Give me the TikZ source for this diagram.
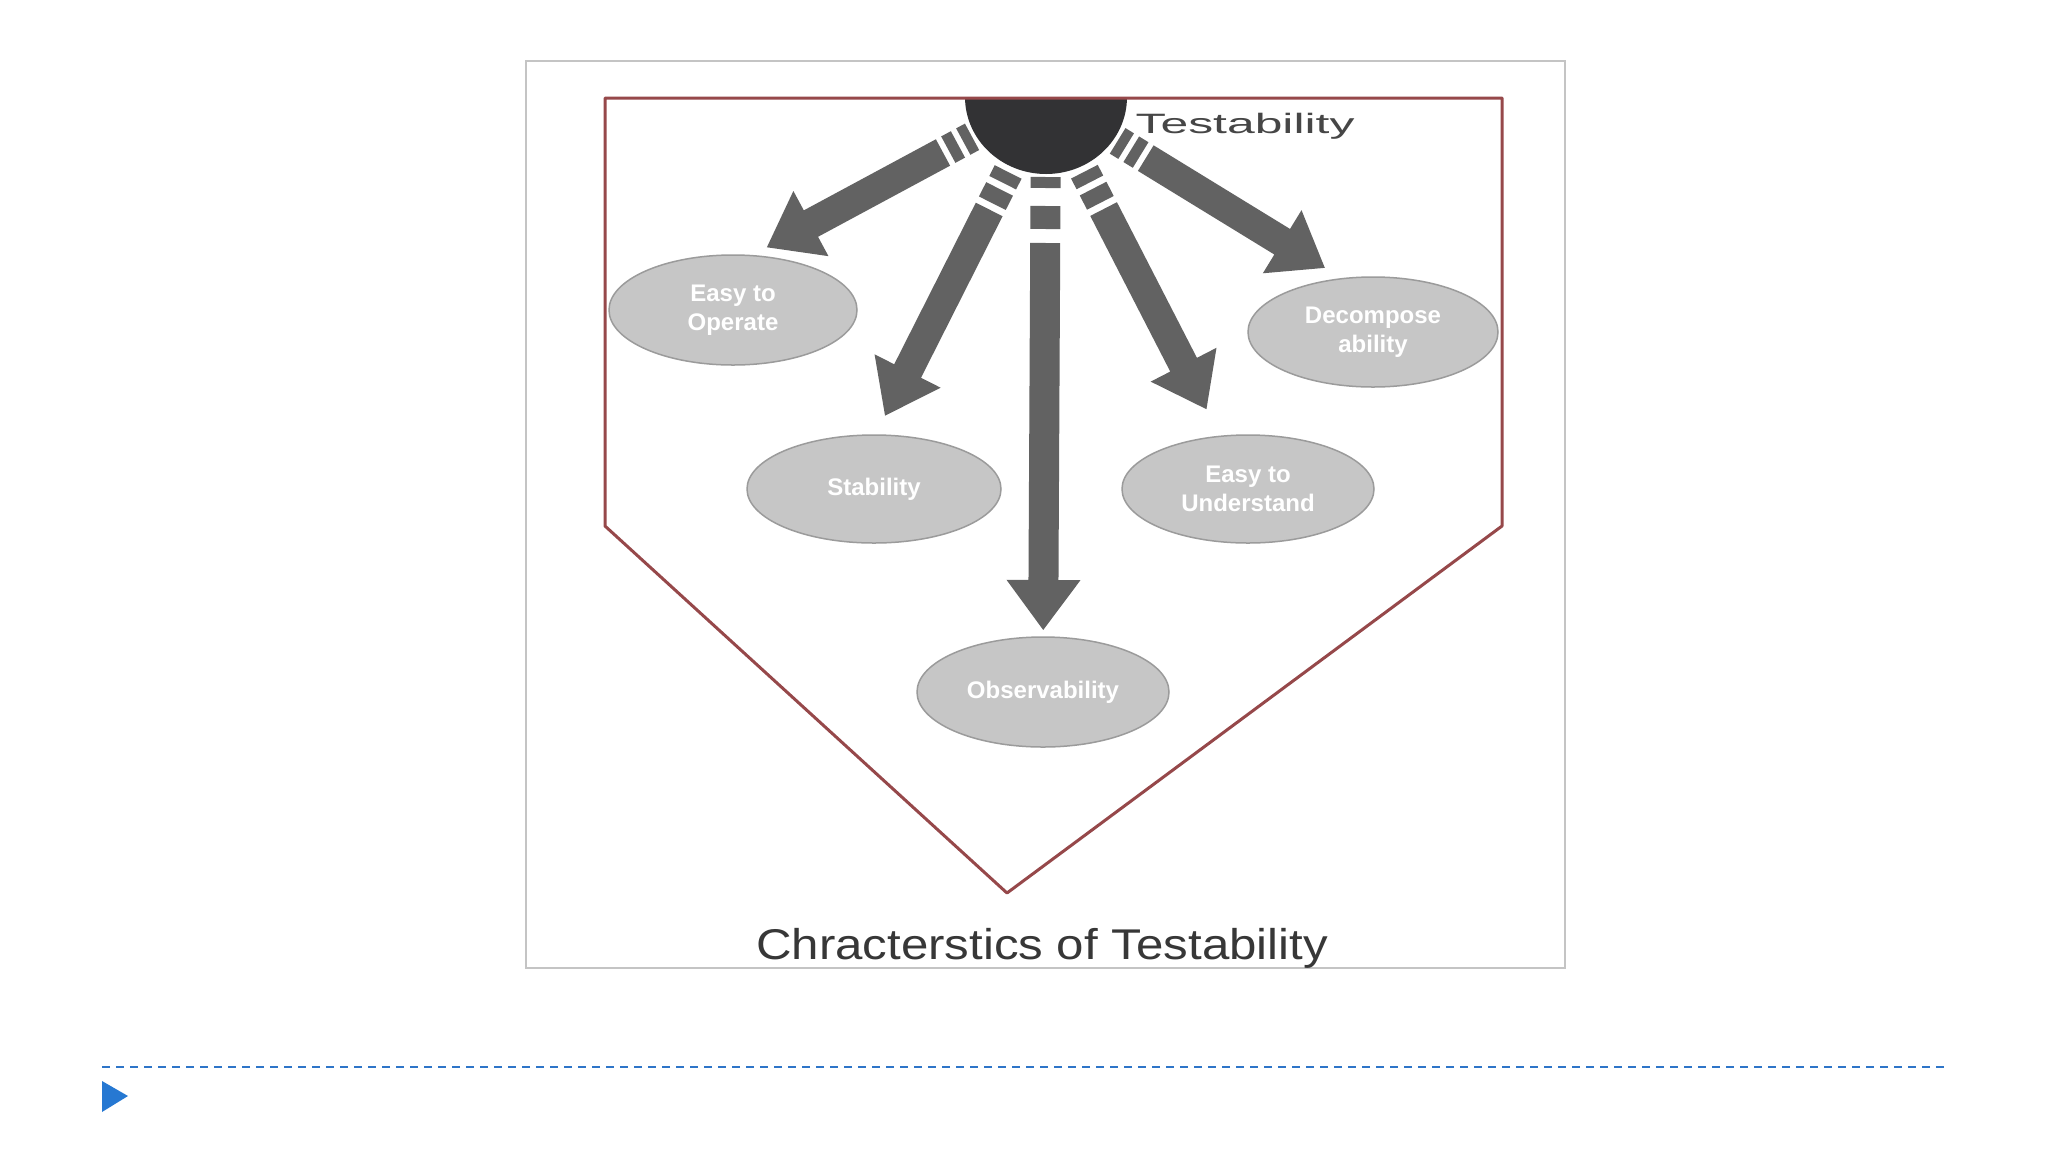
\documentclass[tikz,border=0pt]{standalone}
\usepackage{fontspec}
\setmainfont{Liberation Sans}
\usetikzlibrary{shapes.geometric}
\definecolor{framegray}{RGB}{196,196,196}
\definecolor{pentred}{RGB}{150,72,74}
\definecolor{arrowgray}{RGB}{98,98,98}
\definecolor{sundark}{RGB}{50,50,52}
\definecolor{ellfill}{RGB}{198,198,198}
\definecolor{elldraw}{RGB}{155,155,155}
\definecolor{blueline}{RGB}{46,117,200}
\definecolor{bluetri}{RGB}{38,120,210}
\definecolor{titlegray}{RGB}{55,55,55}
\definecolor{labelgray}{RGB}{70,70,70}

% #1 angle, #2 length, #3-#4 first dash, #5-#6 second dash, #7 shaft start
\newcommand{\shaftarrow}[7]{%
  \begin{scope}[shift={(C)}, rotate=#1]
    \fill[arrowgray] (#3,-15) rectangle (#4,15);
    \fill[arrowgray] (#5,-15) rectangle (#6,15);
    \fill[arrowgray] (#7,-15) -- ({#2-50},-15) -- ({#2-50},-37) -- (#2,0)
      -- ({#2-50},37) -- ({#2-50},15) -- (#7,15) -- cycle;
  \end{scope}}

\begin{document}
\begin{tikzpicture}[x=1pt,y=-1pt,
  ellnode/.style={ellipse, fill=ellfill, draw=elldraw, line width=1.5pt,
    inner sep=0pt, text=white, align=center,
    font=\fontsize{24}{29}\selectfont\bfseries},
  pentline/.style={draw=pentred, line width=3pt, line join=round},
  framebox/.style={draw=framegray, line width=2pt}]

\fill[white] (0,0) rectangle (2048,1152);
\useasboundingbox (0,0) rectangle (2048,1152);

% outer frame
\draw[framebox] (526,61) rectangle (1565,968);

\coordinate (C) at (1046,97);

% arrows
\shaftarrow{208.3}{317}{84}{94}{100}{111}{117}
\shaftarrow{243.2}{357}{84}{96}{103}{119}{126}
\shaftarrow{269.7}{533}{80}{91}{109}{132}{146}
\shaftarrow{297.2}{351}{84}{96}{103}{119}{126}
\shaftarrow{328.5}{327}{84}{94}{100}{111}{117}

% dark half disc
\begin{scope}
  \clip (900,98) rectangle (1200,220);
  \fill[sundark] (C) ellipse [x radius=81, y radius=77];
\end{scope}

% pentagon
\coordinate (p1) at (605,98);
\coordinate (p2) at (1502,98);
\coordinate (p3) at (1502,526);
\coordinate (p4) at (1007,893);
\coordinate (p5) at (605,526);
\draw[pentline] (p1) -- (p2) -- (p3) -- (p4) -- (p5) -- cycle;

% ellipses
\node[ellnode, minimum width=248pt, minimum height=110pt] (eo) at (733,310) {Easy to\\Operate};
\node[ellnode, minimum width=250pt, minimum height=110pt] (da) at (1373,332) {Decompose\\ability};
\node[ellnode, minimum width=254pt, minimum height=108pt] (st) at (874,489) {Stability};
\node[ellnode, minimum width=252pt, minimum height=108pt] (eu) at (1248,489) {Easy to\\Understand};
\node[ellnode, minimum width=252pt, minimum height=110pt] (ob) at (1043,692) {Observability};

% labels
\node[anchor=base, inner sep=0pt, text=labelgray, font=\fontsize{28}{30}\selectfont]
  (testab) at (1245,133) {\scalebox{1.78}[1]{Testability}};
\node[anchor=base, inner sep=0pt, text=titlegray, font=\fontsize{43}{46}\selectfont]
  (title) at (1042,959) {\scalebox{1.145}[1]{Chracterstics of Testability}};

% footer
\coordinate (dl) at (102,1067);
\coordinate (dr) at (1946,1067);
\draw[blueline, line width=2.5pt, dash pattern=on 8pt off 6pt] (dl) -- (dr);
\fill[bluetri] (102,1081) -- (128,1096) -- (102,1112) -- cycle;

\end{tikzpicture}
\end{document}
